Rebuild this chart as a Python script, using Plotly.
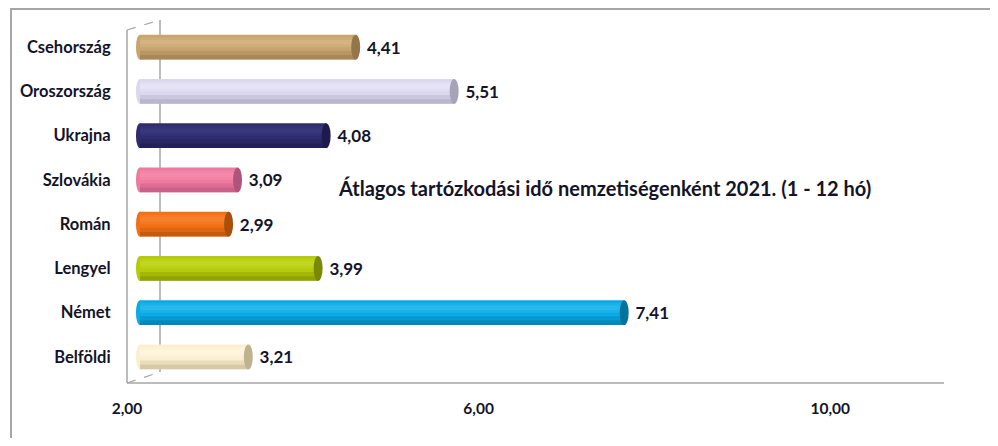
import plotly.graph_objects as go

# ---- data (top-to-bottom reading order) ----
categories = ["Csehország", "Oroszország", "Ukrajna", "Szlovákia", "Román", "Lengyel", "Német", "Belföldi"]
values = [4.41, 5.51, 4.08, 3.09, 2.99, 3.99, 7.41, 3.21]
base_colors = ["#C9A46E", "#DAD7EE", "#2E2C6E", "#F0799F", "#F27013", "#B5CC0A", "#0AAAE6", "#FAF0CF"]
light_colors = ["#D8B988", "#E8E6F6", "#3C3A80", "#F48FAF", "#F78534", "#C4D92A", "#30BDEE", "#FFF6E0"]
dark_colors = ["#94764B", "#A5A2BA", "#1C1B4C", "#B0547A", "#AA4E0C", "#7A8905", "#02739B", "#BEB28F"]
tick_values = [2, 6, 10]
axis_start = 2
title_text = "Átlagos tartózkodási idő nemzetiségenként 2021. (1 - 12 hó)"

# plotly draws first category at bottom -> reverse
cats = categories[::-1]
vals = values[::-1]
basec = base_colors[::-1]
lightc = light_colors[::-1]
darkc = dark_colors[::-1]
lengths = [v - axis_start for v in vals]

# page body has an 8px margin; figure sized to fit the 998x446 window
OFF = 8
W, H = 998 - 2 * OFF, 446 - 2 * OFF
# plot area in screen pixels: x 127..940, y 25..379
SX0, SX1, SY0, SY1 = 127, 940, 25, 379
L, T = SX0 - OFF, SY0 - OFF
PW, PH = SX1 - SX0, SY1 - SY0
R, B = W - L - PW, H - T - PH

# bar plane: value 2 at screen x=140, 89.5 px/unit ; front plane: 2 at 127, 87.9 px/unit
bar_k, front_k = 89.5, 87.9
x_r0 = axis_start - (140 - SX0) / bar_k
x_range = [x_r0, x_r0 + PW / bar_k]
x2_range = [axis_start, axis_start + PW / front_k]


def px_x(p):
    return (p - SX0) / PW


def px_y(p):
    return (SY1 - p) / PH


FONT = "Lato"
TXT = "#141428"

fig = go.Figure()

# main cylinder body
fig.add_trace(go.Bar(
    y=cats, x=lengths, base=axis_start, orientation="h", width=0.56,
    customdata=vals,
    marker=dict(color=basec, line=dict(width=0)),
    texttemplate="  %{customdata:.2f}", textposition="outside",
    textfont=dict(family=FONT, size=17, color=TXT, weight="bold"),
    cliponaxis=False, hoverinfo="skip", showlegend=False,
))
# lower shadow bands
fig.add_trace(go.Bar(
    y=cats, x=lengths, base=axis_start, orientation="h", width=0.2, offset=-0.28,
    marker=dict(color=darkc, opacity=0.3, line=dict(width=0)),
    hoverinfo="skip", showlegend=False,
))
fig.add_trace(go.Bar(
    y=cats, x=lengths, base=axis_start, orientation="h", width=0.1, offset=-0.28,
    marker=dict(color=darkc, opacity=0.45, line=dict(width=0)),
    hoverinfo="skip", showlegend=False,
))
# upper highlight bands
fig.add_trace(go.Bar(
    y=cats, x=lengths, base=axis_start, orientation="h", width=0.22, offset=0.0,
    marker=dict(color=lightc, opacity=0.45, line=dict(width=0)),
    hoverinfo="skip", showlegend=False,
))
fig.add_trace(go.Bar(
    y=cats, x=lengths, base=axis_start, orientation="h", width=0.1, offset=0.06,
    marker=dict(color=lightc, opacity=0.6, line=dict(width=0)),
    hoverinfo="skip", showlegend=False,
))
# invisible trace for the front-plane axis (tick labels)
fig.add_trace(go.Scatter(x=tick_values, y=[cats[0]] * len(tick_values), xaxis="x2",
                         mode="markers", marker=dict(opacity=0), hoverinfo="skip", showlegend=False))

shapes = []
# cylinder end caps and rounded starts
for i, (v, c, bc) in enumerate(zip(vals, darkc, basec)):
    shapes.append(dict(type="circle", xref="x", yref="y", x0=axis_start - 0.045, x1=axis_start + 0.045,
                       y0=i - 0.28, y1=i + 0.28, fillcolor=bc, line=dict(width=0), layer="below"))
    shapes.append(dict(type="circle", xref="x", yref="y", x0=v - 0.05, x1=v + 0.05,
                       y0=i - 0.28, y1=i + 0.28, fillcolor=c, line=dict(width=0), layer="above"))

gray = "#A6A6A6"
# outer chart border
shapes.append(dict(type="rect", xref="paper", yref="paper",
                   x0=px_x(11), x1=px_x(1030), y0=px_y(9), y1=px_y(480),
                   line=dict(color=gray, width=2), fillcolor="rgba(0,0,0,0)", layer="below"))
# 3D wall / floor lines
shapes += [
    dict(type="line", xref="paper", yref="paper", x0=px_x(127), x1=px_x(127), y0=px_y(30), y1=px_y(383),
         line=dict(color=gray, width=1.5), layer="below"),
    dict(type="line", xref="paper", yref="paper", x0=px_x(160), x1=px_x(160), y0=px_y(20), y1=px_y(372),
         line=dict(color=gray, width=1.5), layer="below"),
    dict(type="line", xref="paper", yref="paper", x0=px_x(127), x1=px_x(160), y0=px_y(30), y1=px_y(20),
         line=dict(color=gray, width=1.2, dash="dash"), layer="below"),
    dict(type="line", xref="paper", yref="paper", x0=px_x(127), x1=px_x(160), y0=px_y(383), y1=px_y(372),
         line=dict(color=gray, width=1.2, dash="dash"), layer="below"),
    dict(type="line", xref="paper", yref="paper", x0=px_x(127), x1=px_x(944), y0=px_y(383), y1=px_y(383),
         line=dict(color=gray, width=1.5), layer="below"),
]

fig.update_layout(
    width=W, height=H,
    margin=dict(l=L, r=R, t=T, b=B, autoexpand=False),
    paper_bgcolor="white", plot_bgcolor="rgba(0,0,0,0)",
    barmode="overlay",
    separators=", ",
    shapes=shapes,
    showlegend=False,
    xaxis=dict(range=x_range, showgrid=False, zeroline=False, showline=False,
               showticklabels=False, ticks="", automargin=False),
    xaxis2=dict(range=x2_range, overlaying="x", side="bottom", anchor="y",
                tickvals=tick_values, tickformat=".2f", showgrid=False, zeroline=False,
                showline=False, ticks="outside", ticklen=15, tickcolor="rgba(0,0,0,0)",
                tickfont=dict(family=FONT, size=15.5, color=TXT, weight="bold"), automargin=False),
    yaxis=dict(showgrid=False, zeroline=False, showline=False, ticks="outside", ticklen=12,
               tickcolor="rgba(0,0,0,0)", automargin=False,
               tickfont=dict(family=FONT, size=16.5, color=TXT, weight="bold")),
    annotations=[dict(text=title_text, xref="paper", yref="paper", x=px_x(336), y=px_y(188),
                      xanchor="left", yanchor="middle", showarrow=False,
                      font=dict(family=FONT, size=20, color=TXT, weight="bold"))],
)

fig.write_html("out.html")
